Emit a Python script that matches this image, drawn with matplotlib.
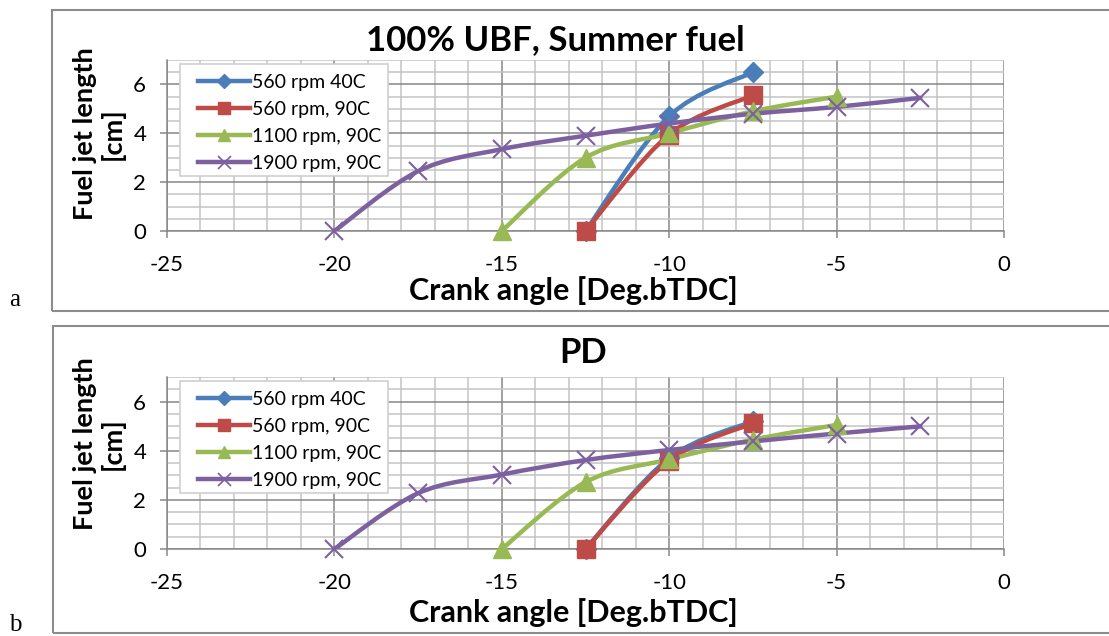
import numpy as np
import matplotlib
matplotlib.use('Agg')
import matplotlib.pyplot as plt
from matplotlib.path import Path
from matplotlib.patches import PathPatch, Rectangle
from matplotlib.lines import Line2D
from matplotlib.ticker import MultipleLocator

plt.rcParams['font.family'] = ['Lato', 'DejaVu Sans']
plt.rcParams['axes.unicode_minus'] = False

# ---- data ----
series_names = ['560 rpm 40C', '560 rpm, 90C', '1100 rpm, 90C', '1900 rpm, 90C']

x_560 = [-12.5, -10, -7.5]
x_1100 = [-15, -12.5, -10, -7.5, -5]
x_1900 = [-20, -17.5, -15, -12.5, -10, -7.5, -5, -2.5]

# panel a: 100% UBF, Summer fuel
a_560_40 = [0, 4.7, 6.5]
a_560_90 = [0, 3.95, 5.55]
a_1100_90 = [0, 3.0, 4.0, 4.9, 5.5]
a_1900_90 = [0, 2.45, 3.35, 3.9, 4.4, 4.8, 5.08, 5.45]

# panel b: PD
b_560_40 = [0, 3.7, 5.2]
b_560_90 = [0, 3.6, 5.12]
b_1100_90 = [0, 2.72, 3.65, 4.45, 5.05]
b_1900_90 = [0, 2.27, 3.03, 3.62, 4.03, 4.38, 4.7, 4.99]

colors = ['#4a7ebb', '#be4b48', '#98b954', '#7d60a0']
markers = ['D', 's', '^', 'x']
msizes = [10, 12.5, 12.5, 13]

W, H = 1109, 636
AX_L, AX_R = 167, 1004


def smooth_path(xs, ys):
    # Bezier path through the points (Excel "smoothed line" style)
    pts = np.column_stack([xs, ys]).astype(float)
    n = len(pts)
    verts = [pts[0]]
    codes = [Path.MOVETO]
    for i in range(n - 1):
        p0 = pts[i - 1] if i > 0 else pts[i]
        p1, p2 = pts[i], pts[i + 1]
        p3 = pts[i + 2] if i + 2 < n else pts[i + 1]
        verts += [p1 + (p2 - p0) / 6, p2 - (p3 - p1) / 6, p2]
        codes += [Path.CURVE4] * 3
    return Path(verts, codes)


def fx(px):
    return px / W


def fy(py):
    return 1 - py / H


fig = plt.figure(figsize=(W / 100, H / 100), dpi=100)


def draw_panel(top_px, bot_px, frame, title, title_xy, ylab_y, xlab_y, letter, letter_y, data):
    ax = fig.add_axes([fx(AX_L), fy(bot_px), fx(AX_R) - fx(AX_L), fy(top_px) - fy(bot_px)])
    ax.set_xlim(-25, 0)
    ax.set_ylim(0, 7)
    ax.xaxis.set_major_locator(MultipleLocator(5))
    ax.xaxis.set_minor_locator(MultipleLocator(1))
    ax.yaxis.set_major_locator(MultipleLocator(2))
    ax.yaxis.set_minor_locator(MultipleLocator(0.5))
    ax.grid(which='major', color='#878787', lw=1.1)
    ax.grid(which='minor', color='#c4c4c4', lw=1.1)
    ax.set_axisbelow(True)
    for s in ['top', 'right']:
        ax.spines[s].set_visible(False)
    for s in ['left', 'bottom']:
        ax.spines[s].set_color('#878787')
        ax.spines[s].set_linewidth(1.1)
    ax.tick_params(which='major', length=5, width=1.1, color='#878787', labelsize=16)
    ax.tick_params(axis='x', which='major', pad=12)
    ax.tick_params(axis='y', which='major', pad=10)
    ax.tick_params(which='minor', length=0)

    xs_list = [x_560, x_560, x_1100, x_1900]
    for xs, ys, c, m, ms in zip(xs_list, data, colors, markers, msizes):
        ax.add_patch(PathPatch(smooth_path(xs, ys), facecolor='none', edgecolor=c,
                               lw=3.2, capstyle='round', joinstyle='round', zorder=3))
        ax.plot(xs, ys, ls='none', marker=m, ms=ms, color=c, mec=c,
                mew=1.5 if m == 'x' else 1, zorder=4, clip_on=False)

    bx0, by0, bx1, by1 = 180, top_px + 4, 388, top_px + 116
    axw = AX_R - AX_L
    axh = bot_px - top_px
    ax.add_patch(Rectangle(((bx0 - AX_L) / axw, (bot_px - by1) / axh),
                           (bx1 - bx0) / axw, (by1 - by0) / axh,
                           transform=ax.transAxes, facecolor='white',
                           edgecolor='#d0d0d0', lw=1.2, zorder=5))
    handles = [Line2D([], [], color=c, lw=3.2, marker=m, ms=ms * 0.72,
                      mew=1.2 if m == 'x' else 1)
               for c, m, ms in zip(colors, markers, msizes)]
    leg = ax.legend(handles, series_names, loc='upper left',
                    bbox_to_anchor=((192 - AX_L) / axw, (bot_px - top_px - 8) / axh),
                    borderaxespad=0, fontsize=14, handlelength=2.7, handletextpad=0.1,
                    labelspacing=0.52, borderpad=0.3, frameon=False)
    leg.set_zorder(6)

    fig.text(fx(title_xy[0]), fy(title_xy[1]), title, ha='center', va='center',
             fontsize=25, fontweight='bold')
    fig.text(fx(99), fy(ylab_y), 'Fuel jet length\n[cm]', ha='center', va='center',
             rotation=90, multialignment='center', fontsize=19.5, fontweight='bold',
             linespacing=1.1)
    fig.text(fx(573), fy(xlab_y), 'Crank angle [Deg.bTDC]', ha='center', va='center',
             fontsize=22, fontweight='bold')
    fig.text(fx(15), fy(letter_y), letter, ha='center', va='center', fontsize=18,
             family='Liberation Serif')
    x0, y0, x1, y1 = frame
    fig.patches.append(Rectangle((fx(x0), fy(y1)), fx(x1) - fx(x0), fy(y0) - fy(y1),
                                 transform=fig.transFigure, fill=False,
                                 edgecolor='#8c8c8c', lw=1.5))


draw_panel(60, 231, (52, 10, 1112, 311), '100% UBF, Summer fuel', (555, 40), 134, 291,
           'a', 300, [a_560_40, a_560_90, a_1100_90, a_1900_90])
draw_panel(377, 549, (53, 326, 1112, 633), 'PD', (583, 353), 444, 613,
           'b', 625, [b_560_40, b_560_90, b_1100_90, b_1900_90])

fig.savefig('out.png', dpi=100)
